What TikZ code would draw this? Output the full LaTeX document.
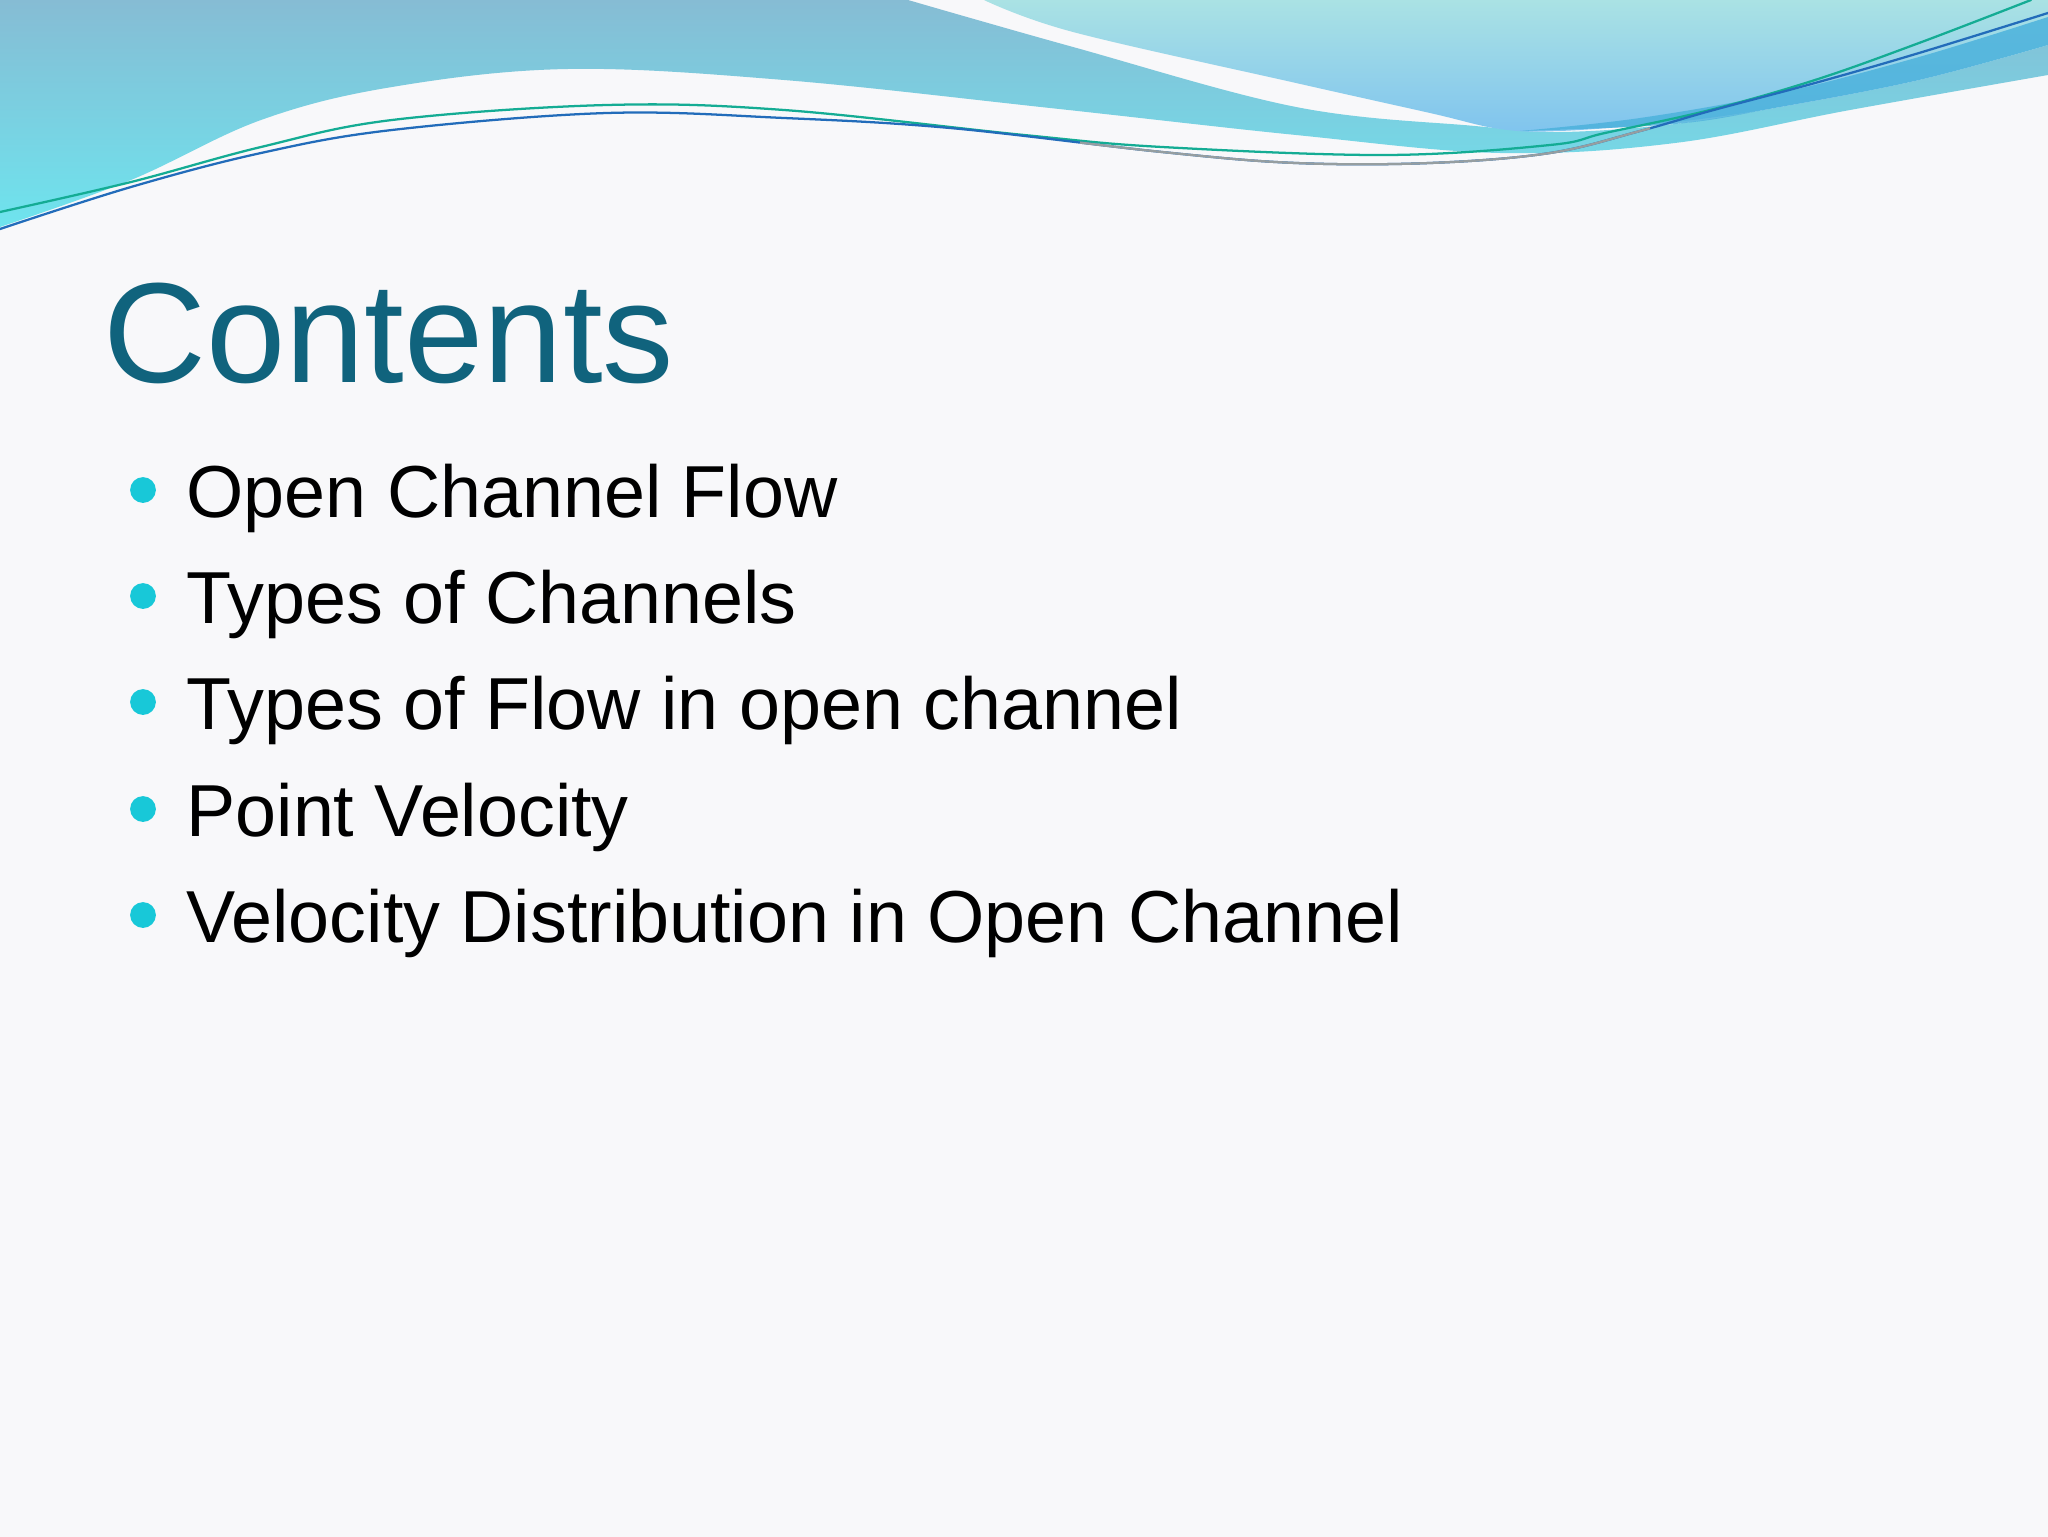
\documentclass[tikz,border=0pt]{standalone}
\usepackage{fontspec}
\setmainfont{Liberation Sans}

\definecolor{paper}{RGB}{248,248,250}
\definecolor{seatop}{RGB}{134,188,212}
\definecolor{seabot}{RGB}{110,228,238}
\definecolor{skytop}{RGB}{170,226,228}
\definecolor{skybot}{RGB}{128,196,238}
\definecolor{band}{RGB}{76,178,220}
\definecolor{lgreen}{RGB}{20,172,148}
\definecolor{lblue}{RGB}{34,108,186}
\definecolor{lgrey}{RGB}{150,158,160}
\definecolor{headcol}{RGB}{16,99,125}
\definecolor{dotcol}{RGB}{24,200,216}

\begin{document}
\begin{tikzpicture}[x=0.0124023cm, y=-0.0124023cm,
  head/.style={anchor=base west, inner sep=0, text=headcol, font=\fontsize{50.3}{60}\selectfont},
  item/.style={anchor=base west, inner sep=0, font=\fontsize{26}{31}\selectfont},
  dot/.style={circle, fill=dotcol, inner sep=0, minimum size=0.32cm},
  wire/.style={line width=0.8pt, line cap=round}]

\useasboundingbox (0, 0) rectangle (2048, 1536) ;
\fill [paper] (-5, -5) rectangle (2053, 1541) ;

% waves on top
\shade [top color=seatop, bottom color=seabot] (0, 0) -- (908, 0)
  -- plot [smooth, tension=0.6] coordinates {(908, 0) (1073, 47) (1296, 107) (1475, 126) (1560, 132) (1675, 124) (1780, 107) (1919, 80) (2048, 45)}
  -- (2048, 75)
  -- plot [smooth, tension=0.6] coordinates {(2048, 75) (1850, 110) (1675, 143) (1500, 153) (1296, 135) (1050, 108) (784, 80) (568, 69) (392, 87) (261, 120) (131, 180) (0, 227)}
  -- cycle ;
\shade [top color=skytop, bottom color=skybot] (984, 0) -- (2048, 0) -- (2048, 45)
  -- plot [smooth, tension=0.6] coordinates {(2048, 45) (1919, 80) (1780, 107) (1675, 122) (1560, 131) (1500, 129) (1430, 113) (1296, 83) (1073, 32) (984, 0)}
  -- cycle ;
\fill [band, opacity=0.85] plot [smooth, tension=0.6] coordinates {(2048, 17) (1919, 57) (1780, 93) (1640, 118) (1520, 131)}
  -- plot [smooth, tension=0.6] coordinates {(1520, 131) (1675, 124) (1780, 107) (1919, 80) (2048, 45)}
  -- cycle ;

% thin lines
\draw [wire, lgreen] plot [smooth, tension=0.6] coordinates {(0, 212) (131, 182) (261, 147) (392, 120) (607, 105) (784, 110) (1024, 135) (1162, 147) (1386, 155) (1550, 145) (1605, 133) (1710, 110) (1815, 80) (1919, 43) (2031, 0)} ;
\draw [wire, lblue] plot [smooth, tension=0.6] coordinates {(0, 229) (131, 187) (261, 153) (392, 130) (607, 113) (784, 118) (950, 128) (1162, 152) (1296, 163) (1430, 163) (1550, 153) (1640, 131) (1710, 111) (1815, 83) (1919, 53) (2048, 13)} ;
\begin{scope}
\clip (1080, 0) rectangle (1650, 300) ;
\draw [wire, lgrey] plot [smooth, tension=0.6] coordinates {(0, 229) (131, 187) (261, 153) (392, 130) (607, 113) (784, 118) (950, 128) (1162, 152) (1296, 163) (1430, 163) (1550, 153) (1640, 131) (1710, 111) (1815, 83) (1919, 53) (2048, 13)} ;
\end{scope}

% title and list
\node [head] (title) at (103, 382) {Contents} ;

\node [dot] (d1) at (143, 490) {} ;
\node [dot] (d2) at (143, 596) {} ;
\node [dot] (d3) at (143, 702) {} ;
\node [dot] (d4) at (143, 809) {} ;
\node [dot] (d5) at (143, 915) {} ;

\node [item] (i1) at (186, 517) {Open Channel Flow} ;
\node [item] (i2) at (186, 623) {Types of Channels} ;
\node [item] (i3) at (186, 729) {Types of Flow in open channel} ;
\node [item] (i4) at (186, 836) {Point Velocity} ;
\node [item] (i5) at (186, 942) {Velocity Distribution in Open Channel} ;

\end{tikzpicture}
\end{document}
